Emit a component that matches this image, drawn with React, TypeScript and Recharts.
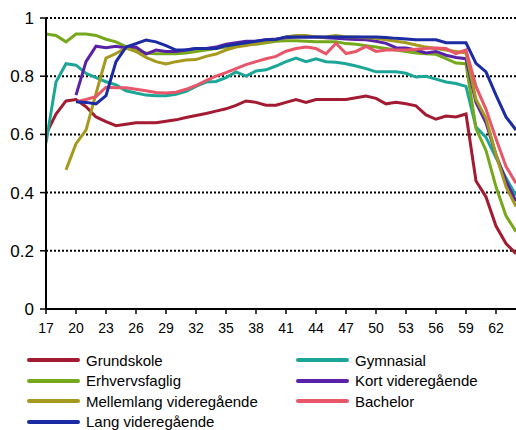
import { CartesianGrid, Legend, Line, LineChart, XAxis, YAxis } from "recharts";

const ages = [
  17, 18, 19, 20, 21, 22, 23, 24, 25, 26, 27, 28, 29, 30, 31, 32, 33, 34, 35, 36, 37, 38, 39, 40,
  41, 42, 43, 44, 45, 46, 47, 48, 49, 50, 51, 52, 53, 54, 55, 56, 57, 58, 59, 60, 61, 62, 63, 64,
];
const xTicks = [17, 20, 23, 26, 29, 32, 35, 38, 41, 44, 47, 50, 53, 56, 59, 62];
const yTicks = [0, 0.2, 0.4, 0.6, 0.8, 1];

const grundskole = [
  0.6, 0.67, 0.715, 0.72, 0.695, 0.66, 0.644, 0.63, 0.635, 0.64, 0.64, 0.64, 0.645, 0.65, 0.658, 0.665,
  0.672, 0.68, 0.688, 0.7, 0.715, 0.71, 0.7, 0.7, 0.71, 0.72, 0.71, 0.72, 0.72, 0.72, 0.72, 0.726,
  0.732, 0.724, 0.705, 0.71, 0.705, 0.698, 0.667, 0.652, 0.663, 0.66, 0.67, 0.44, 0.385, 0.285, 0.225, 0.19,
];
const gymnasial = [
  0.57, 0.78, 0.843, 0.838, 0.81, 0.795, 0.781, 0.77, 0.75, 0.742, 0.735, 0.733, 0.733, 0.738, 0.748, 0.765,
  0.78, 0.782, 0.795, 0.815, 0.8, 0.818, 0.822, 0.835, 0.85, 0.862, 0.85, 0.86, 0.85, 0.848, 0.843, 0.835,
  0.826, 0.815, 0.815, 0.815, 0.81, 0.797, 0.8, 0.79, 0.78, 0.775, 0.765, 0.625, 0.59, 0.52, 0.45, 0.39,
];
const erhvervsfaglig = [
  0.945, 0.94, 0.918, 0.945, 0.945, 0.94, 0.927, 0.918, 0.902, 0.89, 0.88, 0.877, 0.877, 0.877, 0.88, 0.885,
  0.89, 0.895, 0.9, 0.905, 0.91, 0.91, 0.915, 0.92, 0.922, 0.922, 0.92, 0.918, 0.918, 0.918, 0.912, 0.91,
  0.905, 0.9, 0.895, 0.89, 0.885, 0.88, 0.877, 0.875, 0.86, 0.845, 0.843, 0.62, 0.545, 0.42, 0.32, 0.266,
];
const kortVideregaende = [
  null, null, null, 0.735, 0.85, 0.903, 0.898, 0.903, 0.897, 0.9, 0.876, 0.89, 0.885, 0.885, 0.89, 0.895,
  0.895, 0.9, 0.91, 0.915, 0.92, 0.92, 0.925, 0.928, 0.932, 0.935, 0.935, 0.935, 0.932, 0.93, 0.928, 0.926,
  0.925, 0.92, 0.913, 0.898, 0.897, 0.89, 0.88, 0.885, 0.872, 0.864, 0.86, 0.71, 0.64, 0.53, 0.44, 0.37,
];
const mellemlang = [
  null, null, 0.478, 0.568, 0.615, 0.74, 0.862, 0.878, 0.897, 0.885, 0.865, 0.85, 0.842, 0.85, 0.856, 0.857,
  0.868, 0.876, 0.89, 0.9, 0.905, 0.912, 0.918, 0.925, 0.935, 0.94, 0.94, 0.935, 0.935, 0.94, 0.935, 0.935,
  0.932, 0.93, 0.925, 0.92, 0.915, 0.907, 0.9, 0.895, 0.89, 0.885, 0.88, 0.72, 0.655, 0.53, 0.42, 0.352,
];
const bachelor = [
  null, null, null, 0.712, 0.72, 0.73, 0.762, 0.76, 0.76, 0.755, 0.75, 0.744, 0.742, 0.745, 0.755, 0.768,
  0.785, 0.8, 0.812, 0.826, 0.84, 0.85, 0.86, 0.868, 0.886, 0.895, 0.9, 0.895, 0.877, 0.913, 0.878, 0.885,
  0.902, 0.885, 0.89, 0.89, 0.89, 0.893, 0.895, 0.897, 0.895, 0.878, 0.89, 0.765, 0.686, 0.585, 0.49, 0.432,
];
const langVideregaende = [
  null, null, null, 0.712, 0.71, 0.705, 0.733, 0.85, 0.9, 0.912, 0.924, 0.918, 0.905, 0.89, 0.89, 0.895,
  0.895, 0.895, 0.905, 0.91, 0.915, 0.92, 0.925, 0.926, 0.935, 0.935, 0.935, 0.935, 0.935, 0.935, 0.935, 0.935,
  0.935, 0.935, 0.933, 0.93, 0.928, 0.925, 0.925, 0.925, 0.915, 0.915, 0.915, 0.844, 0.815, 0.735, 0.66, 0.615,
];

const series = [
  { key: "grundskole", name: "Grundskole", color: "#A31B32", values: grundskole },
  { key: "gymnasial", name: "Gymnasial", color: "#1CA697", values: gymnasial },
  { key: "erhverv", name: "Erhvervsfaglig", color: "#76A81C", values: erhvervsfaglig },
  { key: "kort", name: "Kort videregående", color: "#5A20A6", values: kortVideregaende },
  { key: "mellem", name: "Mellemlang videregående", color: "#A5991E", values: mellemlang },
  { key: "bachelor", name: "Bachelor", color: "#E8566A", values: bachelor },
  { key: "lang", name: "Lang videregående", color: "#1B2BA4", values: langVideregaende },
];

const data = ages.map((age, i) => {
  const row: Record<string, number | null> = { age };
  series.forEach((s) => (row[s.key] = s.values[i]));
  return row;
});

const font = "'Liberation Sans', Arial, sans-serif";

function LegendBox() {
  return (
    <div
      style={{
        display: "grid",
        gridTemplateColumns: "269px 200px",
        fontFamily: font,
        fontSize: 15,
        color: "#000",
      }}
    >
      {series.map((s) => (
        <div key={s.key} style={{ display: "flex", alignItems: "center", height: 20.5 }}>
          <span style={{ width: 53, height: 4, background: s.color, borderRadius: 2, marginRight: 6 }} />
          <span>{s.name}</span>
        </div>
      ))}
    </div>
  );
}

export default function App() {
  return (
    <div style={{ position: "absolute", left: 0, top: 0, width: 516, height: 430, background: "#fff" }}>
      <LineChart width={516} height={430} data={data} margin={{ top: 18, right: 0, left: 0, bottom: 91 }}>
        <CartesianGrid horizontal vertical={false} stroke="#000" strokeDasharray="2 2" strokeWidth={2} />
        <XAxis
          dataKey="age"
          type="number"
          domain={[17, 64]}
          ticks={xTicks}
          allowDataOverflow
          axisLine={{ stroke: "#000", strokeWidth: 2 }}
          tickLine={{ stroke: "#000", strokeWidth: 1.5 }}
          tickSize={5}
          tickMargin={9}
          interval={0}
          tick={{ fill: "#000", fontSize: 14, fontFamily: font }}
          height={30}
        />
        <YAxis
          domain={[0, 1]}
          ticks={yTicks}
          width={46}
          axisLine={{ stroke: "#000", strokeWidth: 2 }}
          tickLine={{ stroke: "#000", strokeWidth: 1.5 }}
          tickSize={6}
          tickMargin={6}
          tick={{ fill: "#000", fontSize: 17, fontFamily: font }}
        />
        <Legend
          content={() => <LegendBox />}
          wrapperStyle={{ top: 350, left: 27, width: 480, height: 0, overflow: "visible" }}
        />
        {series.map((s) => (
          <Line
            key={s.key}
            dataKey={s.key}
            name={s.name}
            type="linear"
            stroke={s.color}
            strokeWidth={3}
            dot={false}
            activeDot={false}
            isAnimationActive={false}
          />
        ))}
      </LineChart>
    </div>
  );
}
